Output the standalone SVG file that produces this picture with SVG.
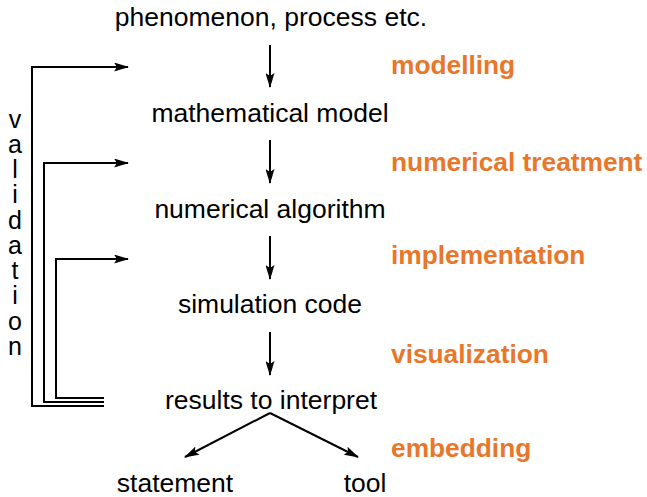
<svg xmlns="http://www.w3.org/2000/svg" width="647" height="497" viewBox="0 0 647 497">
<style>
.t{font-family:"Liberation Sans",Arial,sans-serif;font-size:26.5px;fill:#000;text-anchor:middle}
.v{font-family:"Liberation Sans",Arial,sans-serif;font-size:25px;fill:#000;text-anchor:middle}
.o{font-family:"Liberation Sans",Arial,sans-serif;font-size:26.3px;font-weight:bold;fill:#E8762B}
.c{fill:none;stroke:#000;stroke-width:2}
</style>
<defs>
<marker id="ah" viewBox="0 0 15 9" refX="14" refY="4.5" markerWidth="7.5" markerHeight="4.5" markerUnits="strokeWidth" orient="auto">
<path d="M0,0 L15,4.5 L0,9 L3,4.5 Z" fill="#000"/>
</marker>
</defs>
<rect width="647" height="497" fill="#fff"/>
<g id="connectors">
<line class="c" x1="270" y1="45" x2="270" y2="87" marker-end="url(#ah)"/>
<line class="c" x1="270" y1="140" x2="270" y2="183" marker-end="url(#ah)"/>
<line class="c" x1="270" y1="236" x2="270" y2="279" marker-end="url(#ah)"/>
<line class="c" x1="270" y1="332" x2="270" y2="375" marker-end="url(#ah)"/>
<polyline class="c" points="104,406 32,406 32,67 128,67" marker-end="url(#ah)"/>
<polyline class="c" points="104,402 44,402 44,163 128,163" marker-end="url(#ah)"/>
<polyline class="c" points="104,398 56,398 56,259 128,259" marker-end="url(#ah)"/>
<line class="c" x1="270" y1="413" x2="185" y2="457" marker-end="url(#ah)"/>
<line class="c" x1="270" y1="413" x2="358" y2="457" marker-end="url(#ah)"/>
</g>
<g id="phenomenon"><text class="t" x="271" y="26">phenomenon, process etc.</text></g>
<g id="model"><text class="t" x="270" y="122">mathematical model</text></g>
<g id="algorithm"><text class="t" x="270" y="218">numerical algorithm</text></g>
<g id="code"><text class="t" x="270" y="313">simulation code</text></g>
<g id="results"><text class="t" x="271" y="409">results to interpret</text></g>
<g id="statement"><text class="t" x="175" y="492">statement</text></g>
<g id="tool"><text class="t" x="365" y="492">tool</text></g>
<g id="labels">
<text class="o" x="391" y="74">modelling</text>
<text class="o" x="391" y="171">numerical treatment</text>
<text class="o" x="391" y="264">implementation</text>
<text class="o" x="391" y="363">visualization</text>
<text class="o" x="391" y="457">embedding</text>
</g>
<g id="validation">
<text class="v" x="15" y="128">v</text>
<text class="v" x="15" y="153">a</text>
<text class="v" x="15" y="178">l</text>
<text class="v" x="15" y="203">i</text>
<text class="v" x="15" y="229">d</text>
<text class="v" x="15" y="254">a</text>
<text class="v" x="15" y="279">t</text>
<text class="v" x="15" y="304">i</text>
<text class="v" x="15" y="330">o</text>
<text class="v" x="15" y="355">n</text>
</g>
</svg>
